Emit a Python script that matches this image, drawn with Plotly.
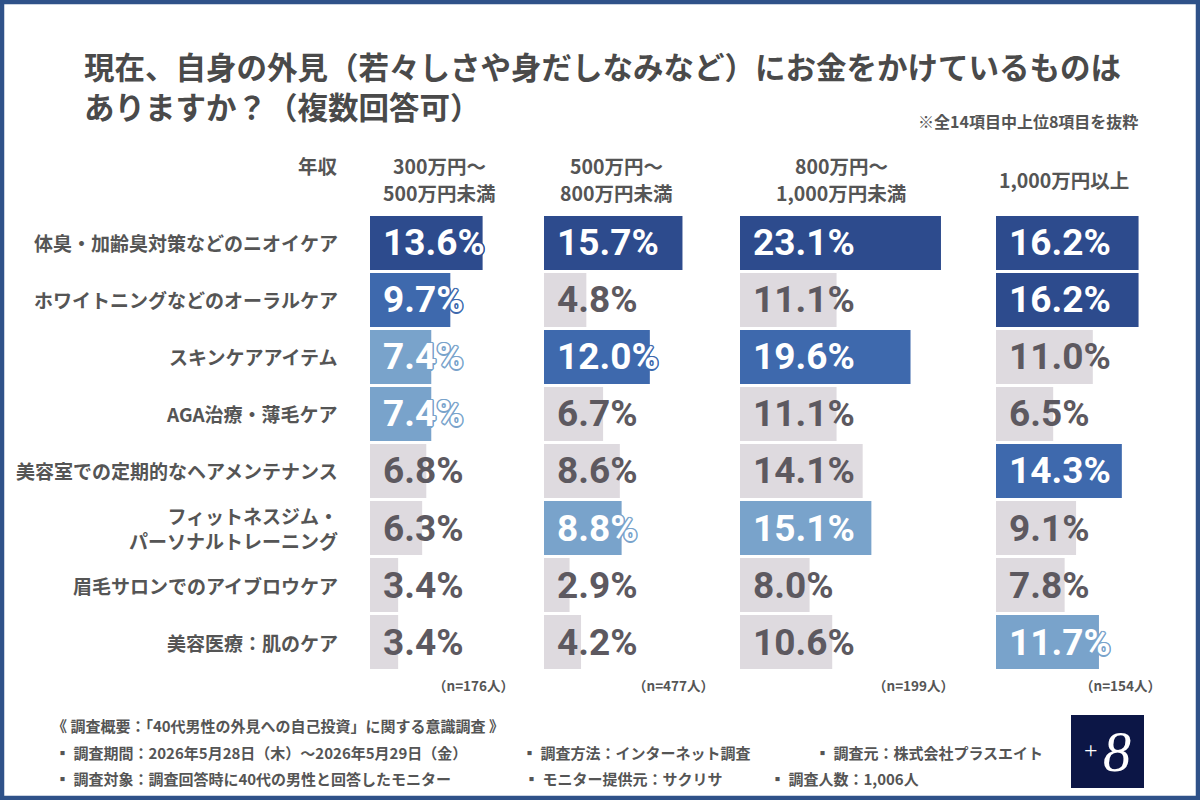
import plotly.graph_objects as go

# ---------------- data ----------------
categories = [
    "体臭・加齢臭対策などのニオイケア",
    "ホワイトニングなどのオーラルケア",
    "スキンケアアイテム",
    "AGA治療・薄毛ケア",
    "美容室での定期的なヘアメンテナンス",
    "フィットネスジム・<br>パーソナルトレーニング",
    "眉毛サロンでのアイブロウケア",
    "美容医療：肌のケア",
]
income_line1 = ["300万円～", "500万円～", "800万円～", "1,000万円以上"]
income_line2 = ["500万円未満", "800万円未満", "1,000万円未満", ""]
vals_300_500 = [13.6, 9.7, 7.4, 7.4, 6.8, 6.3, 3.4, 3.4]
vals_500_800 = [15.7, 4.8, 12.0, 6.7, 8.6, 8.8, 2.9, 4.2]
vals_800_1000 = [23.1, 11.1, 19.6, 11.1, 14.1, 15.1, 8.0, 10.6]
vals_1000_plus = [16.2, 16.2, 11.0, 6.5, 14.3, 9.1, 7.8, 11.7]
sample_sizes = [176, 477, 199, 154]

title_line1 = "現在、自身の外見（若々しさや身だしなみなど）にお金をかけているものは"
title_line2 = "ありますか？（複数回答可）"
note_text = "※全14項目中上位8項目を抜粋"
header_label = "年収"
footer_head = "《 調査概要：「40代男性の外見への自己投資」に関する意識調査 》"
footer_items = [
    ("▪ 調査期間：2026年5月28日（木）～2026年5月29日（金）", 0),
    ("▪ 調査方法：インターネット調査", 0),
    ("▪ 調査元：株式会社プラスエイト", 0),
    ("▪ 調査対象：調査回答時に40代の男性と回答したモニター", 1),
    ("▪ モニター提供元：サクリサ", 1),
    ("▪ 調査人数：1,006人", 1),
]

# ---------------- style ----------------
W, H = 1200, 800
JP = "Noto Sans CJK JP"
NUM = "Roboto"
TXT = "#555555"
RANK_COLORS = ["#2d4b8d", "#3e69ad", "#79a3cb"]
GREY = "#dedadf"
GREY_TXT = "#5d5960"

def px(x):
    return x / W

def py(y):
    return 1 - y / H

# panel geometry: (bar start px, bar end px, px per %, header center px, n-label center px)
panel_geo = [
    (370, 535, 8.28, 440, 473),
    (544, 730, 8.82, 616, 673),
    (740, 985, 8.70, 841, 913),
    (996, 1185, 8.80, 1064, 1120),
]
panel_vals = [vals_300_500, vals_500_800, vals_800_1000, vals_1000_plus]

row_top, row_bottom = 214.5, 670.5
ydom = [py(row_bottom), py(row_top)]

fig = go.Figure()
annotations = []
layout_axes = {}

for i, (vals, geo) in enumerate(zip(panel_vals, panel_geo)):
    x0, x1, scale, hx, nx = geo
    distinct = sorted(set(vals), reverse=True)
    colors = []
    for v in vals:
        r = distinct.index(v)
        colors.append(RANK_COLORS[r] if r < 3 else GREY)
    axname = "x" if i == 0 else f"x{i+1}"
    fig.add_trace(go.Bar(
        x=vals, y=categories, orientation="h",
        xaxis=axname, yaxis="y",
        marker=dict(color=colors, line=dict(width=0)),
        width=0.947, hoverinfo="skip", showlegend=False,
    ))
    key = "xaxis" if i == 0 else f"xaxis{i+1}"
    layout_axes[key] = dict(
        domain=[px(x0), px(x1)], range=[0, (x1 - x0) / scale],
        visible=False, fixedrange=True, anchor="y",
    )
    for v, c, cat in zip(vals, colors, categories):
        if c == GREY:
            f = dict(family=NUM, size=37, color=GREY_TXT, weight="bold")
        else:
            sh = ", ".join(f"{a}px {b}px 0 {c}" for a, b in
                           [(1, 1), (-1, -1), (1, -1), (-1, 1), (1.5, 0), (-1.5, 0), (0, 1.5), (0, -1.5)])
            f = dict(family=NUM, size=37, color="white", weight="bold", shadow=sh)
        annotations.append(dict(
            x=0, y=cat, xref=axname, yref="y", xanchor="left", yanchor="middle",
            xshift=11, yshift=0, text=f"{v:.1f}%", showarrow=False, font=f,
        ))
    # header
    if income_line2[i]:
        annotations.append(dict(
            x=px(hx), y=py(165), xref="paper", yref="paper", xanchor="center", yanchor="middle",
            text=income_line1[i], showarrow=False,
            font=dict(family=JP, size=19.5, color=TXT, weight="bold"),
        ))
        annotations.append(dict(
            x=px(hx), y=py(192), xref="paper", yref="paper", xanchor="center", yanchor="middle",
            text=income_line2[i], showarrow=False,
            font=dict(family=JP, size=19.5, color=TXT, weight="bold"),
        ))
    else:
        annotations.append(dict(
            x=px(hx), y=py(180), xref="paper", yref="paper", xanchor="center", yanchor="middle",
            text=income_line1[i], showarrow=False,
            font=dict(family=JP, size=19.5, color=TXT, weight="bold"),
        ))
    # sample size
    annotations.append(dict(
        x=px(nx), y=py(685), xref="paper", yref="paper", xanchor="center", yanchor="middle",
        text=f"（n={sample_sizes[i]}人）", showarrow=False,
        font=dict(family=JP, size=13.5, color=TXT, weight="bold"),
    ))

# category labels
for cat in categories:
    annotations.append(dict(
        x=px(340), y=cat, xref="paper", yref="y", xanchor="right", yanchor="middle",
        text=cat, showarrow=False, align="right",
        font=dict(family=JP, size=19, color=TXT, weight="bold"),
    ))

# header label, title, note
annotations += [
    dict(x=px(318), y=py(165), xref="paper", yref="paper", xanchor="center", yanchor="middle",
         text=header_label, showarrow=False, font=dict(family=JP, size=19.5, color=TXT, weight="bold")),
    dict(x=px(82), y=py(66), xref="paper", yref="paper", xanchor="left", yanchor="middle",
         text=title_line1, showarrow=False, font=dict(family=JP, size=30.5, color="#4a4a4a", weight="bold")),
    dict(x=px(82), y=py(106), xref="paper", yref="paper", xanchor="left", yanchor="middle",
         text=title_line2, showarrow=False, font=dict(family=JP, size=30.5, color="#4a4a4a", weight="bold")),
    dict(x=px(1140), y=py(121), xref="paper", yref="paper", xanchor="right", yanchor="middle",
         text=note_text, showarrow=False, font=dict(family=JP, size=16, color=TXT, weight="bold")),
]

# footer
annotations.append(dict(x=px(50), y=py(725), xref="paper", yref="paper", xanchor="left", yanchor="middle",
                        text=footer_head, showarrow=False,
                        font=dict(family=JP, size=15, color=TXT, weight="bold")))
footer_x = [53, 520, 813, 53, 522, 768]
footer_y = [752, 778]
for (t, row), fx in zip(footer_items, footer_x):
    annotations.append(dict(x=px(fx), y=py(footer_y[row]), xref="paper", yref="paper",
                            xanchor="left", yanchor="middle", text=t, showarrow=False,
                            font=dict(family=JP, size=15, color=TXT, weight="bold")))

# logo text
annotations += [
    dict(x=px(1091), y=py(750), xref="paper", yref="paper", xanchor="center", yanchor="middle",
         text="+", showarrow=False, font=dict(family="Liberation Serif", size=24, color="white")),
    dict(x=px(1117), y=py(752), xref="paper", yref="paper", xanchor="center", yanchor="middle",
         text="8", showarrow=False, font=dict(family="Liberation Serif", size=56, color="white", style="italic")),
]

shapes = [
    dict(type="rect", xref="paper", yref="paper", x0=px(1071), x1=px(1144), y0=py(788), y1=py(715),
         fillcolor="#0c1646", line=dict(width=0), layer="below"),
    dict(type="rect", xref="paper", yref="paper", x0=px(2), x1=px(1198), y0=py(798), y1=py(2),
         fillcolor="rgba(0,0,0,0)", line=dict(color="#2f5289", width=4.5), layer="above"),
]

fig.update_layout(
    width=W, height=H, margin=dict(l=0, r=0, t=0, b=0),
    paper_bgcolor="white", plot_bgcolor="rgba(0,0,0,0)",
    yaxis=dict(domain=ydom, categoryorder="array", categoryarray=categories,
               autorange="reversed", visible=False, fixedrange=True),
    bargap=0.05, annotations=annotations, shapes=shapes, showlegend=False,
    **layout_axes,
)

fig.write_html("out.html", config={"displayModeBar": False})
